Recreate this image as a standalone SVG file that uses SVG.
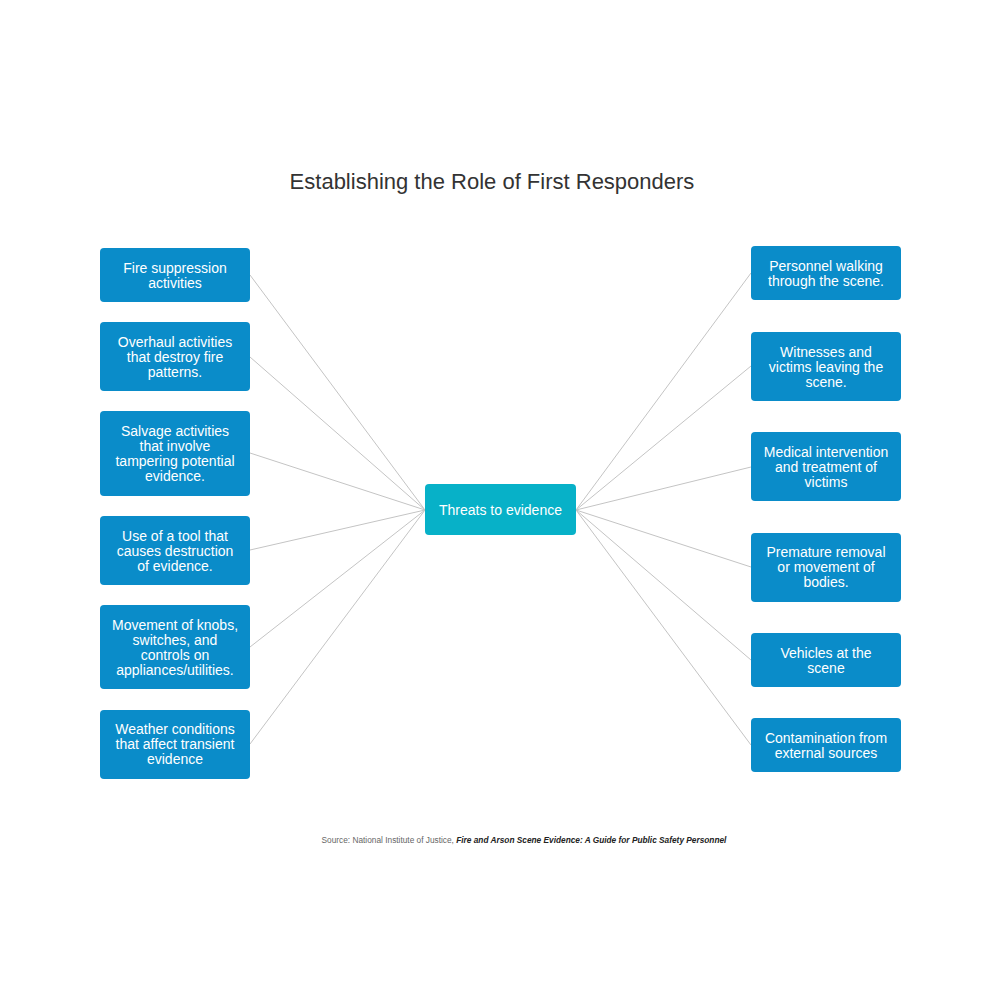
<svg xmlns="http://www.w3.org/2000/svg" width="1000" height="1000" viewBox="0 0 1000 1000">
<style>
.box{fill:#0a8cc9;}
.center{fill:#07b1c8;}
.lbl{font-family:"Liberation Sans",Arial,sans-serif;font-size:14px;fill:#ffffff;text-anchor:middle;}
.conn{stroke:#c4c4c4;stroke-width:1;fill:none;}
.title{font-family:"Liberation Sans",Arial,sans-serif;font-size:22px;fill:#333333;text-anchor:middle;}
.src{font-family:"Liberation Sans",Arial,sans-serif;font-size:8.3px;fill:#666666;}
.srci{font-style:italic;font-weight:bold;fill:#222222;}
</style>
<rect width="1000" height="1000" fill="#ffffff"/>
<text class="title" x="492" y="189">Establishing the Role of First Responders</text>
<g id="connectors">
<line class="conn" x1="250" y1="275" x2="425" y2="510"/>
<line class="conn" x1="250" y1="357" x2="425" y2="510"/>
<line class="conn" x1="250" y1="453" x2="425" y2="510"/>
<line class="conn" x1="250" y1="550" x2="425" y2="510"/>
<line class="conn" x1="250" y1="647" x2="425" y2="510"/>
<line class="conn" x1="250" y1="744" x2="425" y2="510"/>
<line class="conn" x1="576" y1="510" x2="751" y2="273"/>
<line class="conn" x1="576" y1="510" x2="751" y2="366"/>
<line class="conn" x1="576" y1="510" x2="751" y2="467"/>
<line class="conn" x1="576" y1="510" x2="751" y2="567"/>
<line class="conn" x1="576" y1="510" x2="751" y2="660"/>
<line class="conn" x1="576" y1="510" x2="751" y2="745"/>
</g>
<g id="center">
<rect class="center" x="425" y="484" width="151" height="51" rx="4"/>
<text class="lbl" x="500.5" y="515">Threats to evidence</text>
</g>
<g id="l1">
<rect class="box" x="100" y="248" width="150" height="54" rx="4"/>
<text class="lbl" x="175" y="273">Fire suppression</text>
<text class="lbl" x="175" y="288">activities</text>
</g>
<g id="l2">
<rect class="box" x="100" y="322" width="150" height="69" rx="4"/>
<text class="lbl" x="175" y="347">Overhaul activities</text>
<text class="lbl" x="175" y="362">that destroy fire</text>
<text class="lbl" x="175" y="377">patterns.</text>
</g>
<g id="l3">
<rect class="box" x="100" y="411" width="150" height="85" rx="4"/>
<text class="lbl" x="175" y="436">Salvage activities</text>
<text class="lbl" x="175" y="451">that involve</text>
<text class="lbl" x="175" y="466">tampering potential</text>
<text class="lbl" x="175" y="481">evidence.</text>
</g>
<g id="l4">
<rect class="box" x="100" y="516" width="150" height="69" rx="4"/>
<text class="lbl" x="175" y="541">Use of a tool that</text>
<text class="lbl" x="175" y="556">causes destruction</text>
<text class="lbl" x="175" y="571">of evidence.</text>
</g>
<g id="l5">
<rect class="box" x="100" y="605" width="150" height="84" rx="4"/>
<text class="lbl" x="175" y="630">Movement of knobs,</text>
<text class="lbl" x="175" y="645">switches, and</text>
<text class="lbl" x="175" y="660">controls on</text>
<text class="lbl" x="175" y="675">appliances/utilities.</text>
</g>
<g id="l6">
<rect class="box" x="100" y="710" width="150" height="69" rx="4"/>
<text class="lbl" x="175" y="734">Weather conditions</text>
<text class="lbl" x="175" y="749">that affect transient</text>
<text class="lbl" x="175" y="764">evidence</text>
</g>
<g id="r1">
<rect class="box" x="751" y="246" width="150" height="54" rx="4"/>
<text class="lbl" x="826" y="271">Personnel walking</text>
<text class="lbl" x="826" y="286">through the scene.</text>
</g>
<g id="r2">
<rect class="box" x="751" y="332" width="150" height="69" rx="4"/>
<text class="lbl" x="826" y="357">Witnesses and</text>
<text class="lbl" x="826" y="372">victims leaving the</text>
<text class="lbl" x="826" y="387">scene.</text>
</g>
<g id="r3">
<rect class="box" x="751" y="432" width="150" height="69" rx="4"/>
<text class="lbl" x="826" y="457">Medical intervention</text>
<text class="lbl" x="826" y="472">and treatment of</text>
<text class="lbl" x="826" y="487">victims</text>
</g>
<g id="r4">
<rect class="box" x="751" y="533" width="150" height="69" rx="4"/>
<text class="lbl" x="826" y="557">Premature removal</text>
<text class="lbl" x="826" y="572">or movement of</text>
<text class="lbl" x="826" y="587">bodies.</text>
</g>
<g id="r5">
<rect class="box" x="751" y="633" width="150" height="54" rx="4"/>
<text class="lbl" x="826" y="658">Vehicles at the</text>
<text class="lbl" x="826" y="673">scene</text>
</g>
<g id="r6">
<rect class="box" x="751" y="718" width="150" height="54" rx="4"/>
<text class="lbl" x="826" y="743">Contamination from</text>
<text class="lbl" x="826" y="758">external sources</text>
</g>
<text class="src" x="524" y="843" text-anchor="middle">Source: National Institute of Justice, <tspan class="srci">Fire and Arson Scene Evidence: A Guide for Public Safety Personnel</tspan></text>
</svg>
